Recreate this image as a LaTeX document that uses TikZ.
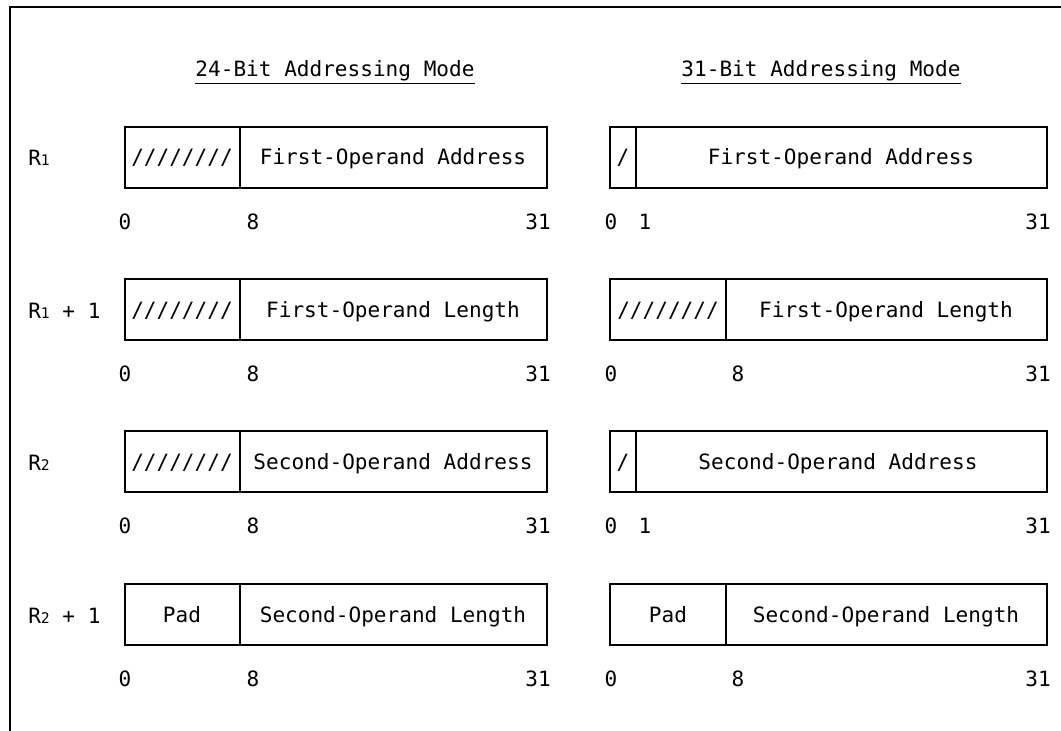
\documentclass[tikz,border=0pt]{standalone}
\usepackage{fontspec}
\setmainfont{DejaVu Sans Mono}
\newcommand{\regno}[1]{{\fontsize{11}{11}\selectfont #1}}
\tikzset{
  reg/.style={line width=1.1pt},
  lbl/.style={anchor=base},
}
\begin{document}
\begin{tikzpicture}[x=0.75pt, y=-0.75pt, every node/.style={font=\fontsize{15.8}{18}\selectfont, inner sep=0pt}]
    \useasboundingbox (0,0) rectangle (1061,731);
    \draw[line width=1.6pt] (10,731) -- (10,7) -- (1061,7);

    \node[lbl] (t24) at (335,77) {\underline{24-Bit Addressing Mode}};
    \node[lbl] (t31) at (821,77) {\underline{31-Bit Addressing Mode}};

    % register names
    \node[anchor=base west] (r1) at (28,166) {R\regno{1}};
    \node[anchor=base west] (r1p) at (28,318) {R\regno{1} + 1};
    \node[anchor=base west] (r2) at (28,470) {R\regno{2}};
    \node[anchor=base west] (r2p) at (28,623) {R\regno{2} + 1};

    % 24-bit boxes
    \foreach \t/\n in {127/1, 279/2, 431/3, 584/4} {
        \draw[reg] (125,\t) rectangle (547,\t+61);
        \draw[reg] (240,\t) -- (240,\t+61);
        \node[lbl] (lz\n) at (125,\t+102) {0};
        \node[lbl] (le\n) at (253,\t+102) {8};
        \node[anchor=base east] (lt\n) at (551,\t+102) {31};
    }

    % 31-bit boxes
    \foreach \t/\n/\d/\b/\p in {127/1/636/1/645, 279/2/726/8/738, 431/3/636/1/645, 584/4/726/8/738} {
        \draw[reg] (610,\t) rectangle (1047,\t+61);
        \draw[reg] (\d,\t) -- (\d,\t+61);
        \node[lbl] (rz\n) at (611,\t+102) {0};
        \node[lbl] (rb\n) at (\p,\t+102) {\b};
        \node[anchor=base east] (rt\n) at (1051,\t+102) {31};
    }

    % fields
    \node[lbl] (lh1) at (182,165) {////////};
    \node[lbl] (la1) at (393,165) {First-Operand Address};
    \node[lbl] (rh1) at (623,165) {/};
    \node[lbl] (ra1) at (841,165) {First-Operand Address};

    \node[lbl] (lh2) at (182,317) {////////};
    \node[lbl] (ll2) at (393,317) {First-Operand Length};
    \node[lbl] (rh2) at (668,317) {////////};
    \node[lbl] (rl2) at (886,317) {First-Operand Length};

    \node[lbl] (lh3) at (182,469) {////////};
    \node[lbl] (la3) at (393,469) {Second-Operand Address};
    \node[lbl] (rh3) at (623,469) {/};
    \node[lbl] (ra3) at (838,469) {Second-Operand Address};

    \node[lbl] (lp4) at (182,622) {Pad};
    \node[lbl] (ll4) at (393,622) {Second-Operand Length};
    \node[lbl] (rp4) at (668,622) {Pad};
    \node[lbl] (rl4) at (886,622) {Second-Operand Length};
\end{tikzpicture}
\end{document}
